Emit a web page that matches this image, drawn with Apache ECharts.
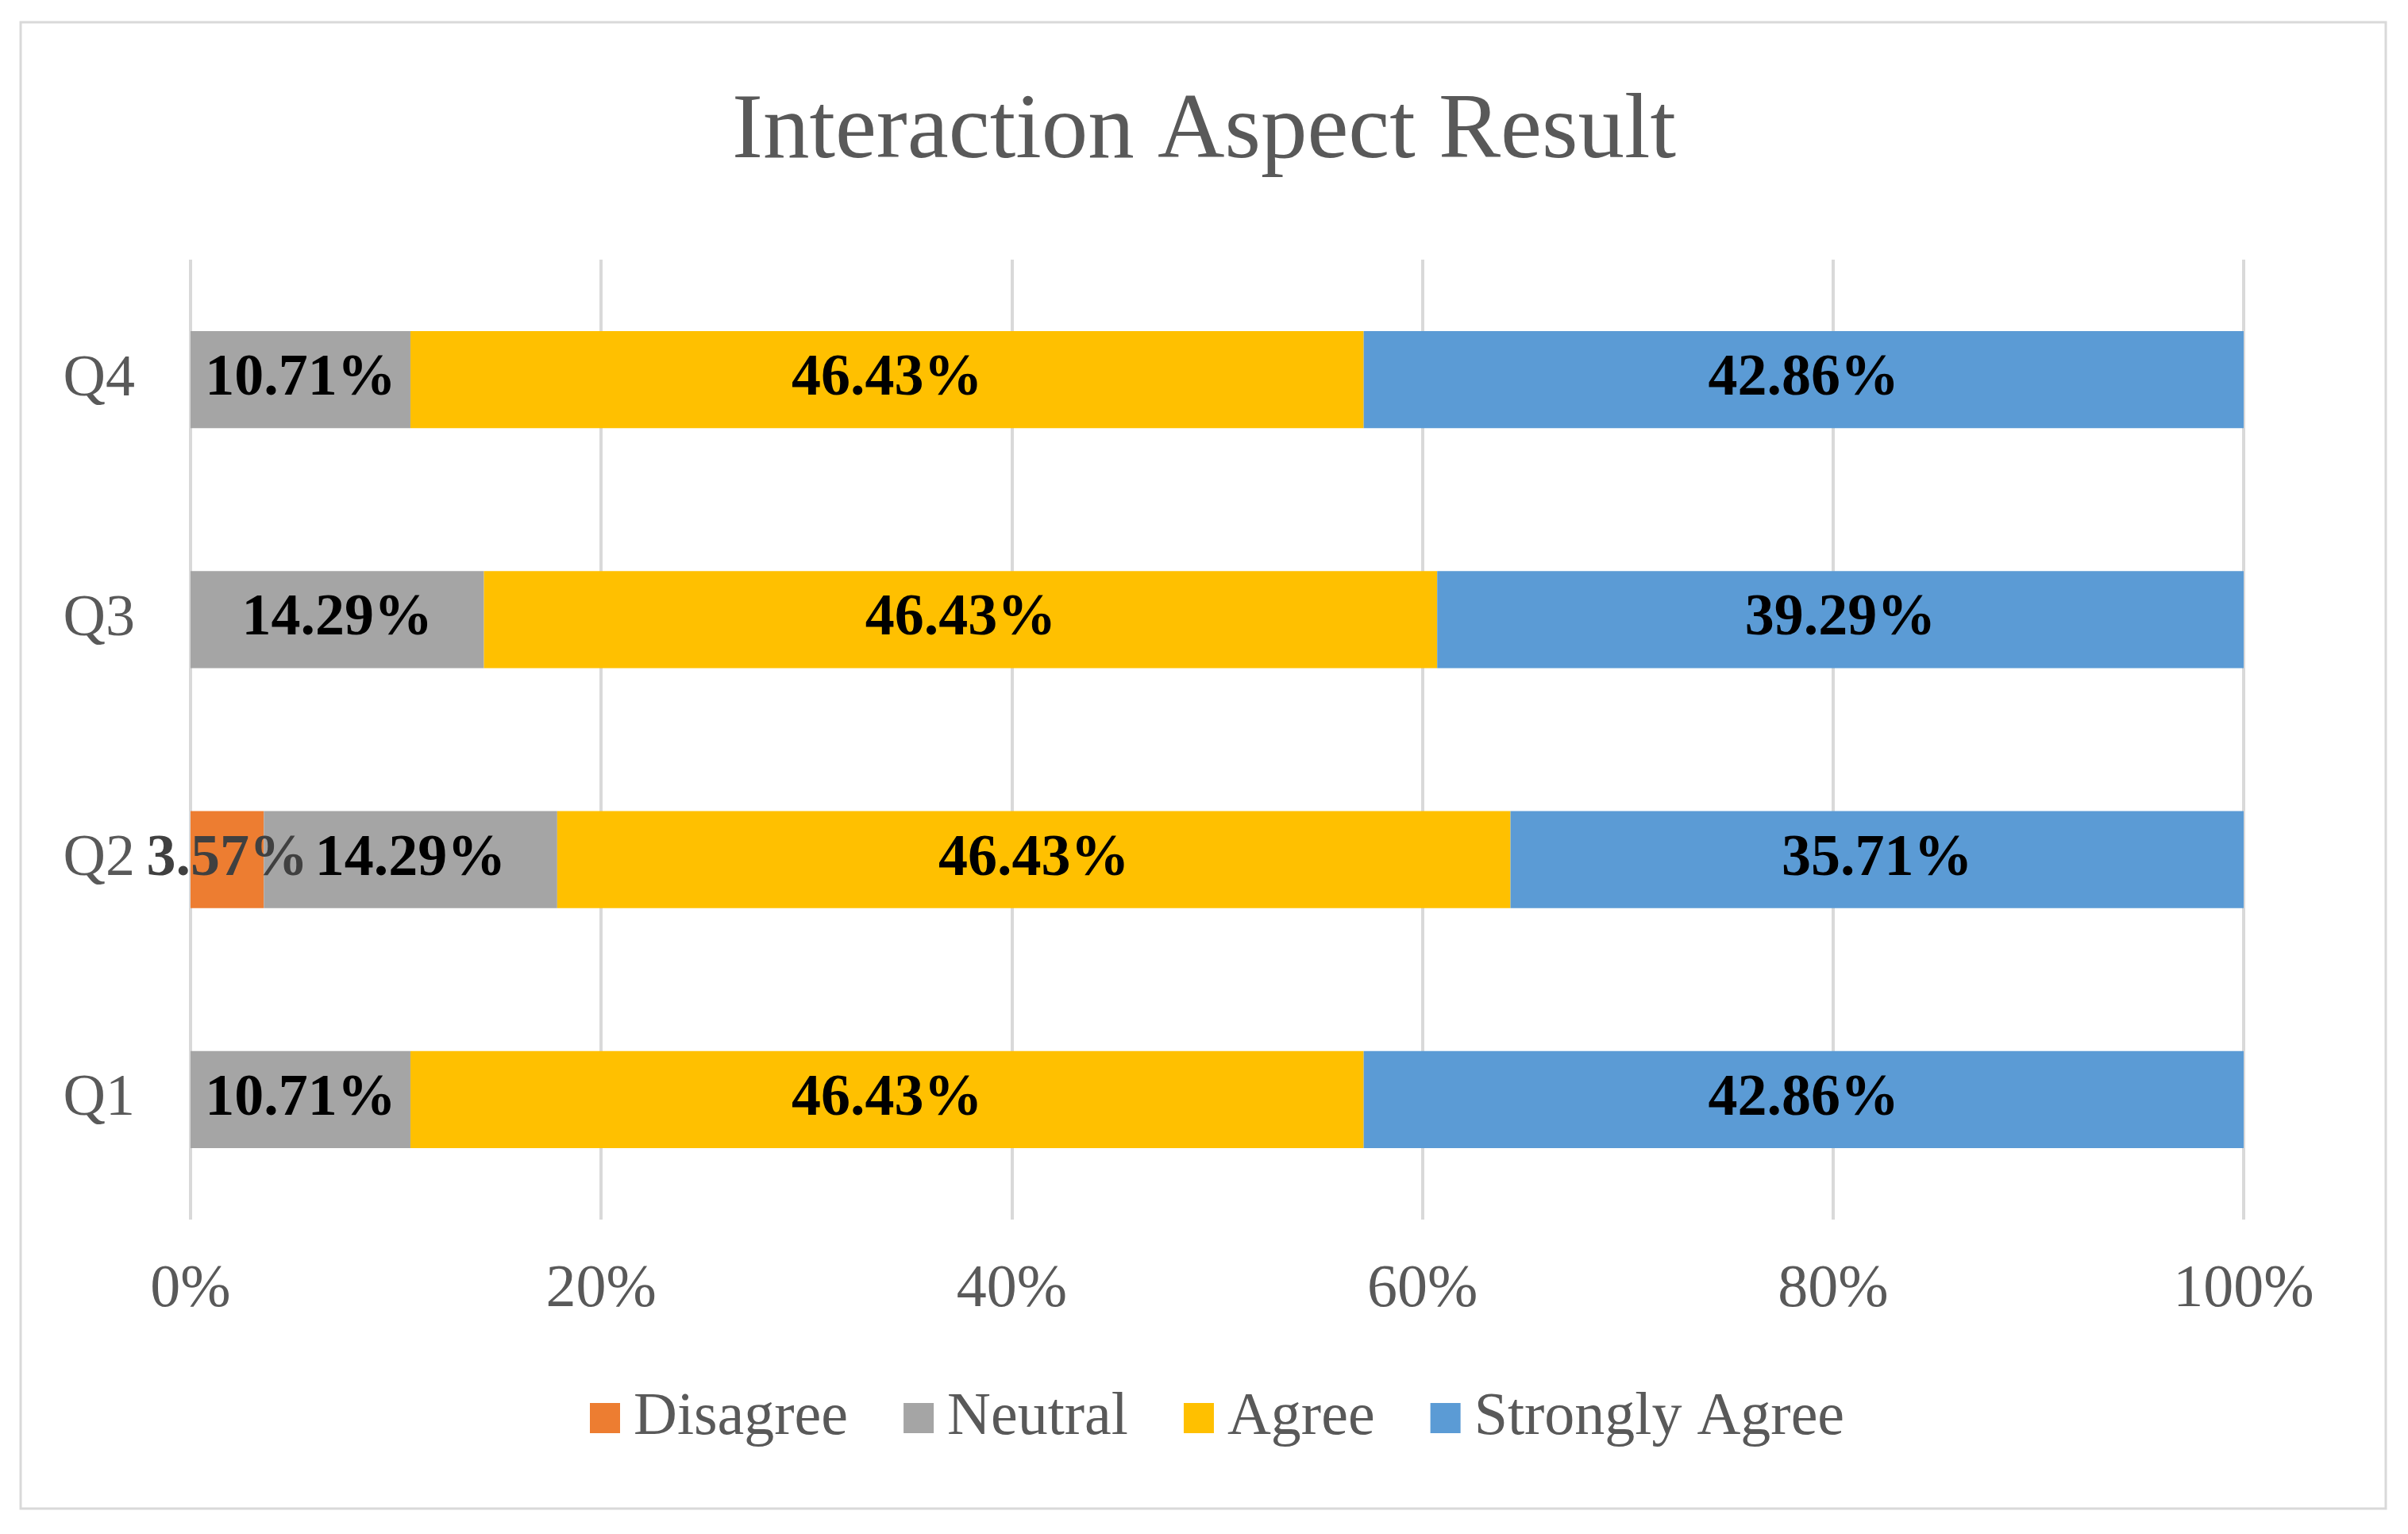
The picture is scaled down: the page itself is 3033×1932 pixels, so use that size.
<!DOCTYPE html>
<html>
<head>
<meta charset="utf-8">
<script src="https://cdn.jsdelivr.net/npm/echarts@6/dist/echarts.min.js"></script>
<style>
html,body{margin:0;padding:0;background:#fff;}
#chart{width:3033px;height:1932px;}
</style>
</head>
<body>
<div id="chart"></div>
<script>
const categories = ['Q1', 'Q2', 'Q3', 'Q4'];
const disagree = [0, 3.57, 0, 0];
const neutral = [10.71, 14.29, 14.29, 10.71];
const agree = [46.43, 46.43, 46.43, 46.43];
const stronglyAgree = [42.86, 35.71, 39.29, 42.86];
const xTicks = [0, 20, 40, 60, 80, 100];

const FONT = "'Liberation Serif', 'Times New Roman', serif";
const chart = echarts.init(document.getElementById('chart'), null, {renderer: 'canvas'});

function fmt(p) {
  return p.value ? p.value.toFixed(2) + '%' : '';
}
function mk(name, data, color, labelColor) {
  return {
    name: name,
    type: 'bar',
    stack: 'total',
    data: data,
    barWidth: '40.4%',
    itemStyle: {color: color},
    label: {
      show: true,
      position: 'inside',
      formatter: fmt,
      color: labelColor,
      fontFamily: FONT,
      fontWeight: 'bold',
      fontSize: 74
    },
    emphasis: {disabled: true}
  };
}

chart.setOption({
  animation: false,
  backgroundColor: '#ffffff',
  title: {
    text: 'Interaction Aspect Result',
    left: 'center',
    top: 104,
    textStyle: {fontFamily: FONT, fontWeight: 'normal', fontSize: 117, color: '#595959'}
  },
  graphic: [{
    type: 'rect',
    shape: {x: 26, y: 28, width: 2979, height: 1872},
    style: {fill: 'none', stroke: '#d9d9d9', lineWidth: 3},
    silent: true
  }],
  legend: {
    bottom: 1932 - 1781 - 48,
    left: 738,
    itemWidth: 38,
    itemHeight: 38,
    itemGap: 70,
    icon: 'rect',
    textStyle: {fontFamily: FONT, fontSize: 76, color: '#595959', padding: [0, 0, 0, 12]},
    data: ['Disagree', 'Neutral', 'Agree', 'Strongly Agree']
  },
  grid: {left: 240, right: 207, top: 327, bottom: 396, containLabel: false},
  xAxis: {
    type: 'value',
    min: 0,
    max: 100,
    interval: 20,
    axisLine: {show: false},
    axisTick: {show: false},
    splitLine: {show: true, lineStyle: {color: '#d9d9d9', width: 4}},
    axisLabel: {
      formatter: function (v) { return xTicks.indexOf(v) >= 0 ? v + '%' : ''; },
      fontFamily: FONT, fontSize: 76, color: '#595959', margin: 51
    }
  },
  yAxis: {
    type: 'category',
    data: categories,
    axisLine: {show: false},
    axisTick: {show: false},
    splitLine: {show: false},
    axisLabel: {fontFamily: FONT, fontSize: 74, color: '#595959', margin: 70}
  },
  series: [
    mk('Disagree', disagree, '#ED7D31', '#404040'),
    mk('Neutral', neutral, '#A5A5A5', '#000000'),
    mk('Agree', agree, '#FFC000', '#000000'),
    mk('Strongly Agree', stronglyAgree, '#5B9BD5', '#000000')
  ]
});
</script>
</body>
</html>
